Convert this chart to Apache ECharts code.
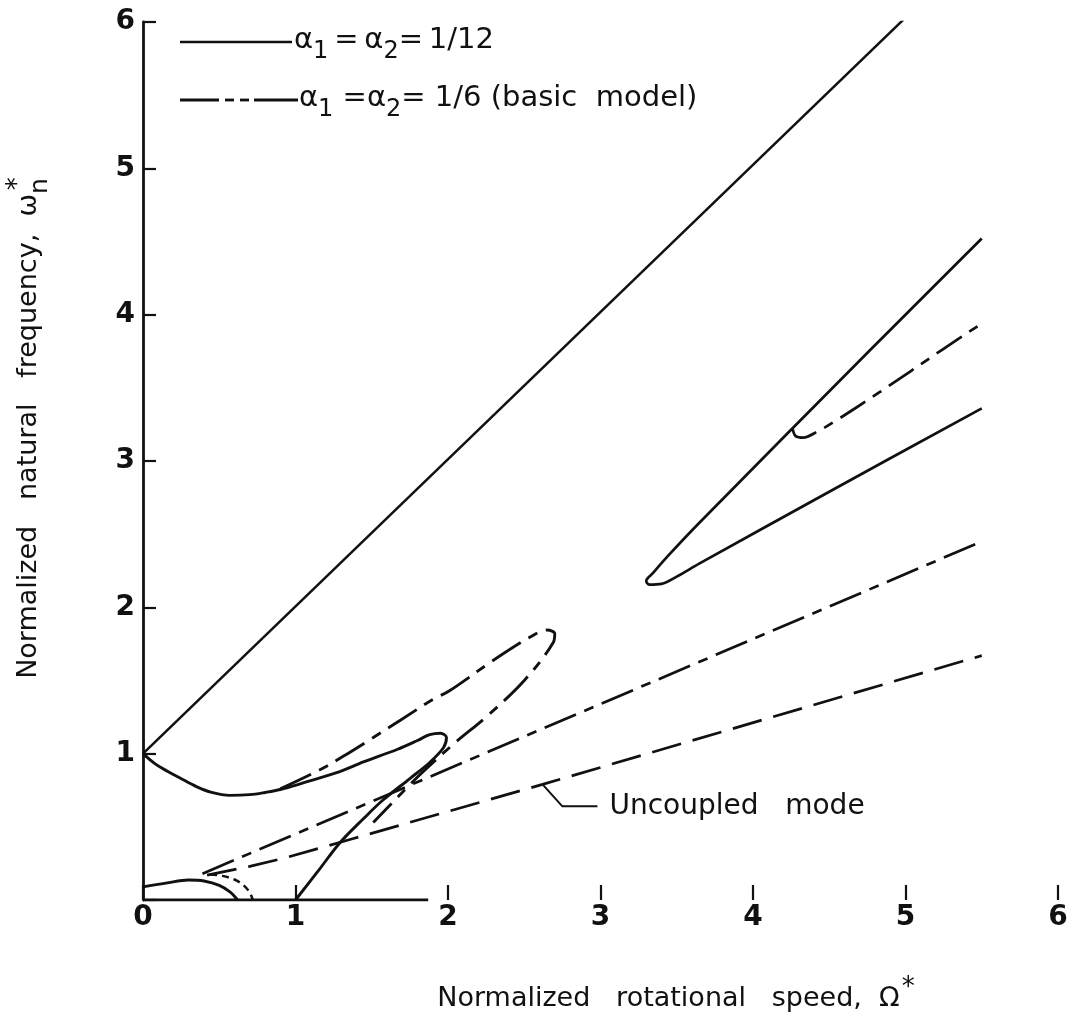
<!DOCTYPE html>
<html>
<head>
<meta charset="utf-8">
<script src="https://cdn.jsdelivr.net/npm/echarts@6/dist/echarts.min.js"></script>
<style>
html,body{margin:0;padding:0;background:#fff;}
#chart{width:1071px;height:1029px;}
</style>
</head>
<body>
<div id="chart"></div>
<script>
// ---- data (Omega*, omega_n*) ----
const xTickValues = [0, 1, 2, 3, 4, 5, 6];
const yTickValues = [1, 2, 3, 4, 5, 6];

// alpha1 = alpha2 = 1/12 (solid)
const solidTopLine = [[0, 1], [5, 6.03]];
const solidLowerLoop = [
  [0, 1], [0.08, 0.93], [0.16, 0.88], [0.24, 0.835], [0.35, 0.775], [0.45, 0.735],
  [0.57, 0.715], [0.7, 0.72], [0.8, 0.735], [0.9, 0.755], [1.05, 0.8], [1.27, 0.87],
  [1.45, 0.945], [1.67, 1.03], [1.8, 1.09], [1.88, 1.13], [1.95, 1.14], [1.99, 1.11],
  [1.97, 1.04], [1.88, 0.94], [1.75, 0.83], [1.57, 0.68], [1.45, 0.56], [1.29, 0.39],
  [1.15, 0.2], [1.0, 0]
];
const solidNearOrigin = [
  [0, 0.09], [0.15, 0.115], [0.3, 0.137], [0.4, 0.13], [0.5, 0.1], [0.57, 0.055], [0.62, 0]
];
const solidUpperLoop = [
  [5.5, 4.52], [4.77, 3.76], [3.65, 2.58], [3.45, 2.36], [3.34, 2.23], [3.3, 2.18],
  [3.32, 2.155], [3.4, 2.16], [3.5, 2.21], [3.65, 2.3], [4.5, 2.79], [5.5, 3.36]
];

// alpha1 = alpha2 = 1/6 basic model (dash-dot)
const basicLine = [[0.39, 0.18], [5.5, 2.45]];
const basicLoop = [
  [0.9, 0.76], [1.16, 0.89], [1.31, 0.98], [1.51, 1.11], [1.69, 1.23], [1.9, 1.37],
  [2.01, 1.43], [2.3, 1.64], [2.56, 1.81], [2.65, 1.845], [2.7, 1.82], [2.69, 1.76],
  [2.5, 1.5], [2.26, 1.26], [2.03, 1.06], [1.8, 0.84], [1.51, 0.53]
];
const basicNearOrigin = [
  [0.44, 0.175], [0.52, 0.165], [0.6, 0.14], [0.66, 0.1], [0.7, 0.05], [0.72, 0]
];
const basicHook = [
  [4.26, 3.22], [4.28, 3.17], [4.33, 3.16], [4.42, 3.2], [4.52, 3.26], [4.83, 3.47],
  [5.24, 3.76], [5.5, 3.94]
];

// uncoupled mode (long dash)
const uncoupled = [[0.42, 0.17], [0.7, 0.23], [0.94, 0.29], [1.38, 0.42], [2.62, 0.79], [5.5, 1.67]];
const uncoupledLeader = [[2.62, 0.79], [2.75, 0.64], [2.98, 0.64]];
const uncoupledLabelAt = [[2.98, 0.64]];
const xAxisStub = [[0, 0], [1.87, 0]];

const INK = '#111';
const FONT = 'DejaVu Sans';

function lineSeries(data, type, width, smooth) {
  return {
    type: 'line', data: data, symbol: 'none', smooth: smooth, silent: true,
    lineStyle: { color: INK, width: width || 2.6, type: type || 'solid', cap: 'butt' }
  };
}

const chart = echarts.init(document.getElementById('chart'), null, { renderer: 'canvas' });
chart.setOption({
  animation: false,
  backgroundColor: '#fff',
  grid: { left: 143, right: 13, top: 22, bottom: 129, containLabel: false },
  xAxis: {
    type: 'value', min: 0, max: 6, interval: 1,
    axisLine: { show: false },
    axisTick: { show: true, inside: true, length: 15, lineStyle: { color: INK, width: 2.2 } },
    axisLabel: { color: INK, fontFamily: FONT, fontSize: 28, fontWeight: 'bold', margin: 4,
      formatter: v => xTickValues.indexOf(v) >= 0 ? String(v) : '' },
    splitLine: { show: false }
  },
  yAxis: {
    type: 'value', min: 0, max: 6, interval: 1,
    axisLine: { show: true, lineStyle: { color: INK, width: 2.8 } },
    axisTick: { show: true, inside: true, length: 13, lineStyle: { color: INK, width: 2.2 } },
    axisLabel: { color: INK, fontFamily: FONT, fontSize: 28, fontWeight: 'bold', margin: 8,
      formatter: v => yTickValues.indexOf(v) >= 0 ? String(v) : '' },
    splitLine: { show: false }
  },
  series: [
    lineSeries(xAxisStub, 'solid', 2.8, false),
    lineSeries(solidTopLine, 'solid', 2.5, false),
    lineSeries(solidLowerLoop, 'solid', 2.9, 0.35),
    lineSeries(solidNearOrigin, 'solid', 2.9, 0.35),
    lineSeries(solidUpperLoop, 'solid', 2.7, 0.35),
    lineSeries(basicLine, [34, 9, 10, 9], 2.7, false),
    lineSeries(basicLoop, [34, 9, 10, 9], 2.9, 0.35),
    lineSeries(basicNearOrigin, [7, 5], 2.5, 0.35),
    lineSeries(basicHook, [30, 9, 10, 9], 2.7, 0.35),
    lineSeries(uncoupled, [30, 12], 2.7, false),
    lineSeries(uncoupledLeader, 'solid', 2, false),
    {
      type: 'scatter', data: uncoupledLabelAt, symbolSize: 0, silent: true,
      itemStyle: { opacity: 1, color: INK },
      label: { show: true, position: 'right', distance: 12, color: INK, opacity: 1,
        fontFamily: FONT, fontSize: 28, formatter: 'Uncoupled   mode' }
    }
  ],
  graphic: [
    // legend samples
    { type: 'line', shape: { x1: 180, y1: 42, x2: 292, y2: 42 }, style: { stroke: INK, lineWidth: 2.6 } },
    { type: 'line', shape: { x1: 180, y1: 100, x2: 219, y2: 100 }, style: { stroke: INK, lineWidth: 2.8 } },
    { type: 'line', shape: { x1: 225, y1: 100, x2: 234, y2: 100 }, style: { stroke: INK, lineWidth: 2.8 } },
    { type: 'line', shape: { x1: 240, y1: 100, x2: 249, y2: 100 }, style: { stroke: INK, lineWidth: 2.8 } },
    { type: 'line', shape: { x1: 254, y1: 100, x2: 298, y2: 100 }, style: { stroke: INK, lineWidth: 2.8 } },
    {
      type: 'text', left: 294, top: 26,
      style: {
        text: '{a|α}{s|1}{a|\u2009=\u2009α}{s|2}{a|=\u20091/12}',
        rich: {
          a: { fontFamily: FONT, fontSize: 29, fill: INK, verticalAlign: 'top', lineHeight: 32 },
          s: { fontFamily: FONT, fontSize: 24, fill: INK, verticalAlign: 'top', lineHeight: 32, padding: [14, 0, 0, 0] }
        }
      }
    },
    {
      type: 'text', left: 299, top: 84,
      style: {
        text: '{a|α}{s|1}{a| =α}{s|2}{a|= 1/6 (basic  model)}',
        rich: {
          a: { fontFamily: FONT, fontSize: 29, fill: INK, verticalAlign: 'top', lineHeight: 32 },
          s: { fontFamily: FONT, fontSize: 24, fill: INK, verticalAlign: 'top', lineHeight: 32, padding: [14, 0, 0, 0] }
        }
      }
    },
    // axis names
    {
      type: 'text', x: 30, y: 428, rotation: Math.PI / 2,
      style: {
        text: '{a|Normalized   natural   frequency,  ω}{s|n}{p|*}',
        align: 'center', verticalAlign: 'middle',
        rich: {
          a: { fontFamily: FONT, fontSize: 27, fill: INK, verticalAlign: 'top', lineHeight: 30 },
          s: { fontFamily: FONT, fontSize: 25, fill: INK, verticalAlign: 'top', lineHeight: 30, padding: [13, 0, 0, 0] },
          p: { fontFamily: FONT, fontSize: 26, fill: INK, verticalAlign: 'top', lineHeight: 30, padding: [-10, 0, 0, -12] }
        }
      }
    },
    {
      type: 'text', x: 676, y: 1000,
      style: {
        text: '{a|Normalized   rotational   speed,  Ω}{p|*}',
        align: 'center', verticalAlign: 'middle',
        rich: {
          a: { fontFamily: FONT, fontSize: 27, fill: INK, verticalAlign: 'top', lineHeight: 30 },
          p: { fontFamily: FONT, fontSize: 26, fill: INK, verticalAlign: 'top', lineHeight: 30, padding: [-10, 0, 0, 2] }
        }
      }
    }
  ]
});
</script>
</body>
</html>
